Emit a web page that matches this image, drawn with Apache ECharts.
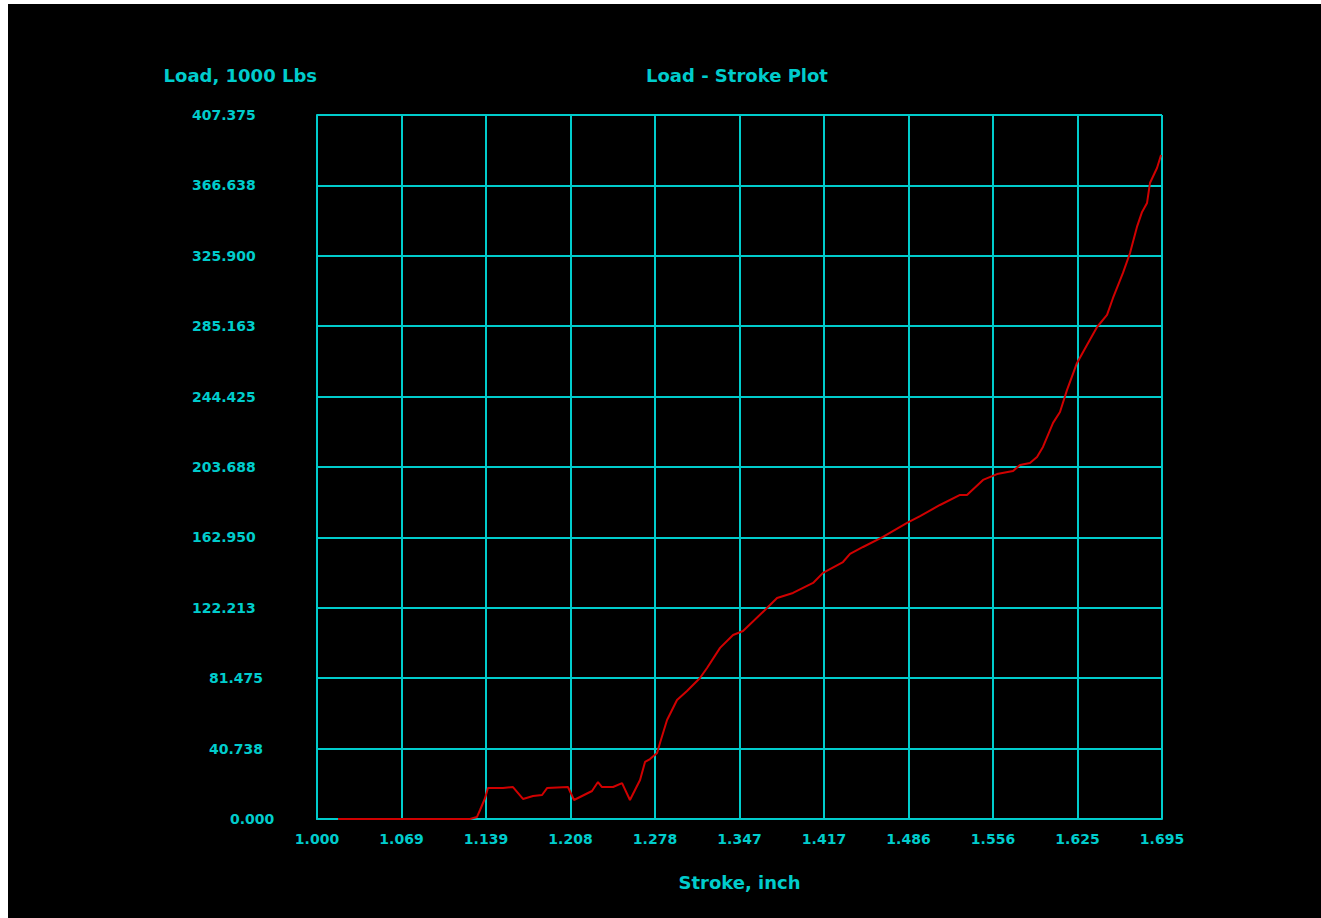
<!DOCTYPE html>
<html>
<head>
<meta charset="utf-8">
<script src="https://cdn.jsdelivr.net/npm/echarts@6/dist/echarts.min.js"></script>
<style>
  html, body { margin: 0; padding: 0; background: #ffffff; width: 1321px; height: 918px; overflow: hidden; }
  #chart { position: absolute; left: 8px; top: 4px; width: 1313px; height: 914px; background: #000000; }
</style>
</head>
<body>
<div id="chart"></div>
<script>
// ---- data ----
const strokeInch = [1.0173, 1.1258, 1.1316, 1.1341, 1.1382, 1.1406, 1.1530, 1.1612, 1.1694, 1.1777, 1.1851, 1.1892, 1.2064, 1.2114, 1.2262, 1.2311, 1.2344, 1.2435, 1.2509, 1.2574, 1.2657, 1.2698, 1.2739, 1.2797, 1.2821, 1.2879, 1.2961, 1.3043, 1.3150, 1.3208, 1.3315, 1.3422, 1.3504, 1.3701, 1.3784, 1.3915, 1.4080, 1.4162, 1.4326, 1.4384, 1.4491, 1.4655, 1.4853, 1.4960, 1.5124, 1.5289, 1.5346, 1.5478, 1.5593, 1.5725, 1.5782, 1.5864, 1.5922, 1.5971, 1.6054, 1.6111, 1.6169, 1.6251, 1.6333, 1.6416, 1.6498, 1.6547, 1.6629, 1.6687, 1.6744, 1.6786, 1.6827, 1.6851, 1.6909, 1.6942];
const loadKlbs = [0, 0, 1.2, 5.2, 12.0, 17.9, 17.9, 18.5, 11.6, 13.3, 13.9, 17.9, 18.5, 11.0, 16.2, 21.4, 18.5, 18.5, 20.8, 11.0, 22.6, 33.0, 34.7, 38.2, 44.0, 57.3, 68.9, 74.1, 81.6, 87.4, 99.0, 106.5, 108.8, 122.1, 127.9, 130.8, 136.6, 142.4, 148.7, 153.4, 157.4, 163.2, 171.3, 175.3, 181.7, 187.5, 187.5, 196.2, 199.6, 201.4, 204.9, 206.0, 209.5, 215.3, 229.2, 235.5, 248.3, 263.9, 274.3, 284.7, 291.7, 301.5, 316.0, 327.5, 342.6, 351.3, 356.5, 368.0, 376.7, 384.2];
const xTickLabels = ['1.000', '1.069', '1.139', '1.208', '1.278', '1.347', '1.417', '1.486', '1.556', '1.625', '1.695'];
const yTickLabels = ['0.000', '40.738', '81.475', '122.213', '162.950', '203.688', '244.425', '285.163', '325.900', '366.638', '407.375'];

const CYAN = '#00cccc';
const RED = '#d00000';
const FONT = 'DejaVu Sans';

const points = strokeInch.map((x, i) => [x, loadKlbs[i]]);

function nearestIndex(v, min, step, n) {
  let i = Math.round((v - min) / step);
  return Math.max(0, Math.min(n - 1, i));
}

const chart = echarts.init(document.getElementById('chart'), null, { renderer: 'svg' });
chart.setOption({
  backgroundColor: '#000000',
  animation: false,
  title: [{
    text: 'Load - Stroke Plot',
    left: 638,
    top: 62,
    padding: 0,
    textStyle: { color: CYAN, fontFamily: FONT, fontWeight: 'bold', fontSize: 18 }
  }],
  grid: { left: 309, top: 111, width: 845, height: 704, containLabel: false, show: false },
  xAxis: {
    type: 'value',
    min: 1.0,
    max: 1.695,
    interval: 0.0695,
    name: 'Stroke, inch',
    nameLocation: 'middle',
    nameGap: 54,
    nameTextStyle: { color: CYAN, fontFamily: FONT, fontWeight: 'bold', fontSize: 18 },
    axisLine: { show: true, lineStyle: { color: CYAN, width: 2 } },
    axisTick: { show: false },
    splitLine: { show: true, lineStyle: { color: CYAN, width: 2 } },
    axisLabel: {
      color: CYAN, fontFamily: FONT, fontWeight: 'bold', fontSize: 14, margin: 13,
      showMinLabel: true, showMaxLabel: true,
      formatter: function (v) { return xTickLabels[nearestIndex(v, 1.0, 0.0695, xTickLabels.length)]; }
    }
  },
  yAxis: {
    type: 'value',
    min: 0,
    max: 407.375,
    interval: 40.7375,
    name: 'Load, 1000 Lbs',
    nameLocation: 'end',
    nameGap: 31,
    nameTextStyle: { color: CYAN, fontFamily: FONT, fontWeight: 'bold', fontSize: 18, align: 'right', verticalAlign: 'bottom' },
    axisLine: { show: true, lineStyle: { color: CYAN, width: 2 } },
    axisTick: { show: false },
    splitLine: { show: true, lineStyle: { color: CYAN, width: 2 } },
    axisLabel: {
      color: CYAN, fontFamily: FONT, fontWeight: 'bold', fontSize: 14,
      align: 'left', margin: 125,
      showMinLabel: true, showMaxLabel: true,
      formatter: function (v) {
        const s = yTickLabels[nearestIndex(v, 0, 40.7375, yTickLabels.length)];
        if (s.length >= 7) return '{a7|' + s + '}';
        if (s.length === 6) return '{a6|' + s + '}';
        return '{a5|' + s + '}';
      },
      rich: {
        a7: { color: CYAN, fontFamily: FONT, fontWeight: 'bold', fontSize: 14 },
        a6: { color: CYAN, fontFamily: FONT, fontWeight: 'bold', fontSize: 14, padding: [0, 0, 0, 17] },
        a5: { color: CYAN, fontFamily: FONT, fontWeight: 'bold', fontSize: 14, padding: [0, 0, 0, 38] }
      }
    }
  },
  series: [{
    type: 'line',
    data: points,
    showSymbol: false,
    symbol: 'none',
    smooth: false,
    lineStyle: { color: RED, width: 2 },
    z: 3
  }]
});
</script>
</body>
</html>
